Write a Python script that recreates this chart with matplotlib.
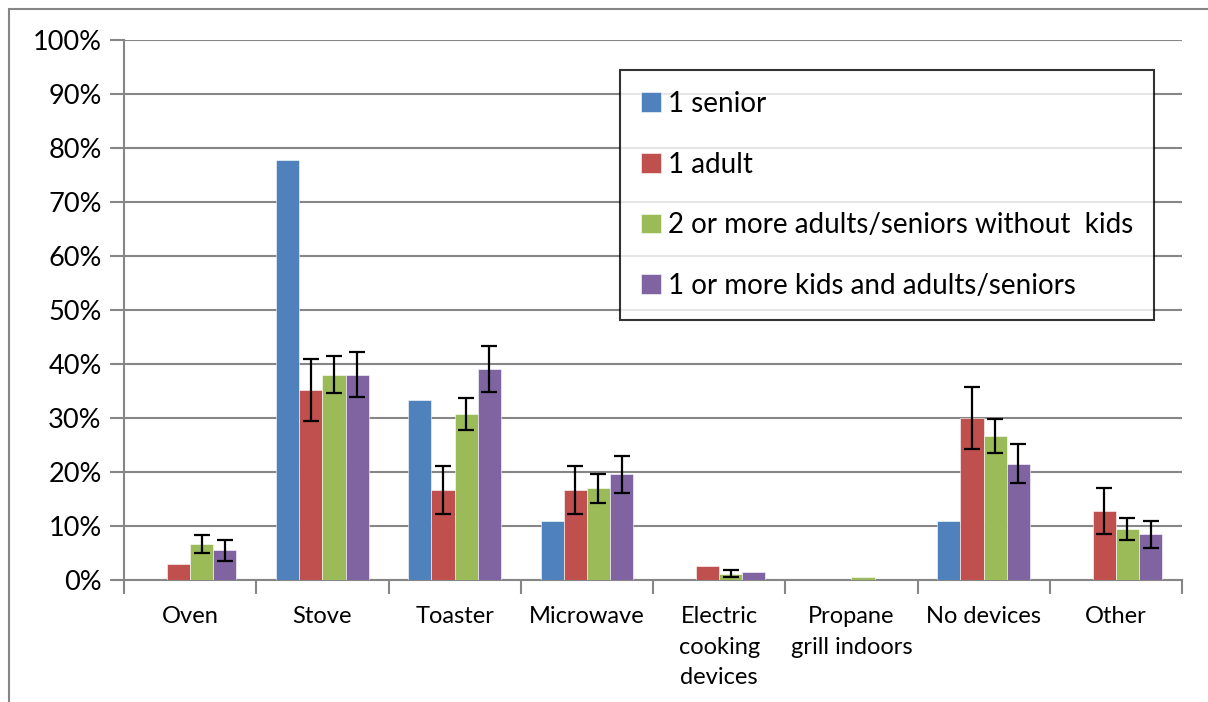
import numpy as np
import matplotlib
matplotlib.use("Agg")
from matplotlib import pyplot as plt
from matplotlib.patches import Rectangle
from matplotlib.ticker import FixedLocator, FuncFormatter

plt.rcParams["font.family"] = ["Lato", "DejaVu Sans"]

# Data
categories = ["Oven", "Stove", "Toaster", "Microwave", "Electric\ncooking\ndevices",
              "Propane\ngrill indoors", "No devices", "Other"]
series = ["1 senior", "1 adult", "2 or more adults/seniors without  kids",
          "1 or more kids and adults/seniors"]
senior = [0, 77.8, 33.3, 10.9, 0, 0, 10.9, 0]
adult = [3.0, 35.2, 16.7, 16.7, 2.6, 0, 30.0, 12.8]
adults_no_kids = [6.7, 38.0, 30.7, 17.0, 1.2, 0.5, 26.7, 9.4]
with_kids = [5.5, 38.0, 39.1, 19.6, 1.5, 0, 21.5, 8.5]
adult_err = [None, 5.8, 4.5, 4.5, None, None, 5.8, 4.2]
adults_no_kids_err = [1.7, 3.4, 3.0, 2.7, 0.7, None, 3.2, 2.0]
with_kids_err = [2.0, 4.2, 4.3, 3.4, None, None, 3.6, 2.5]

colors = ["#4F81BD", "#C0504D", "#9BBB59", "#8064A2"]
values = [senior, adult, adults_no_kids, with_kids]
errors = [None, adult_err, adults_no_kids_err, with_kids_err]

fig = plt.figure(figsize=(12.08, 7.02), dpi=100)
ax = fig.add_axes([124 / 1208, 122 / 702, (1182 - 124) / 1208, 540 / 702])

# outer chart border (clipped at right and bottom as in the image)
fig.patches.append(Rectangle((9 / 1208, -0.1), 1.2, (702 - 9) / 702 + 0.1,
                             transform=fig.transFigure, fill=False,
                             edgecolor="#868686", linewidth=1.5))

x = np.arange(len(categories))
w = 0.175
for i, (vals, errs, c, name) in enumerate(zip(values, errors, colors, series)):
    pos = x + (i - 1.5) * w
    ax.bar(pos, vals, width=w, color=c, edgecolor="white", linewidth=0.4,
           label=name, zorder=3)
    if errs is not None:
        ex = [p for p, e in zip(pos, errs) if e is not None]
        ey = [v for v, e in zip(vals, errs) if e is not None]
        ee = [e for e in errs if e is not None]
        ax.errorbar(ex, ey, yerr=ee, fmt="none", ecolor="black", elinewidth=1.6,
                    capsize=6, capthick=1.6, zorder=4)

ax.set_xlim(-0.5, len(categories) - 0.5)
ax.set_ylim(0, 100)
ax.yaxis.set_major_locator(FixedLocator(np.arange(0, 101, 10)))
ax.yaxis.set_major_formatter(FuncFormatter(lambda v, p: f"{v:.0f}%"))
ax.grid(axis="y", color="#868686", linewidth=1.5, zorder=0)
ax.set_axisbelow(True)

ax.set_xticks(x)
ax.set_xticklabels(categories, fontsize=17, linespacing=1.55, va="top")
ax.set_xticks(np.arange(-0.5, len(categories)), minor=True)
ax.tick_params(axis="x", which="major", length=0, pad=19)
ax.tick_params(axis="x", which="minor", length=10, width=1.5, color="#868686")
ax.tick_params(axis="y", length=10, width=1.5, color="#868686", labelsize=19.5, pad=6)

for s in ["top", "right"]:
    ax.spines[s].set_visible(False)
for s in ["left", "bottom"]:
    ax.spines[s].set_color("#868686")
    ax.spines[s].set_linewidth(1.5)

leg = ax.legend(loc="upper left", bbox_to_anchor=((620 - 124) / 1058, (580 - 70) / 540),
                fontsize=20, frameon=True, fancybox=False, borderpad=0.75,
                labelspacing=1.25, handlelength=0.72, handleheight=0.72,
                handletextpad=0.25, borderaxespad=0)
leg.get_frame().set_edgecolor("black")
leg.get_frame().set_linewidth(1.5)

fig.savefig("out.png", dpi=100)
